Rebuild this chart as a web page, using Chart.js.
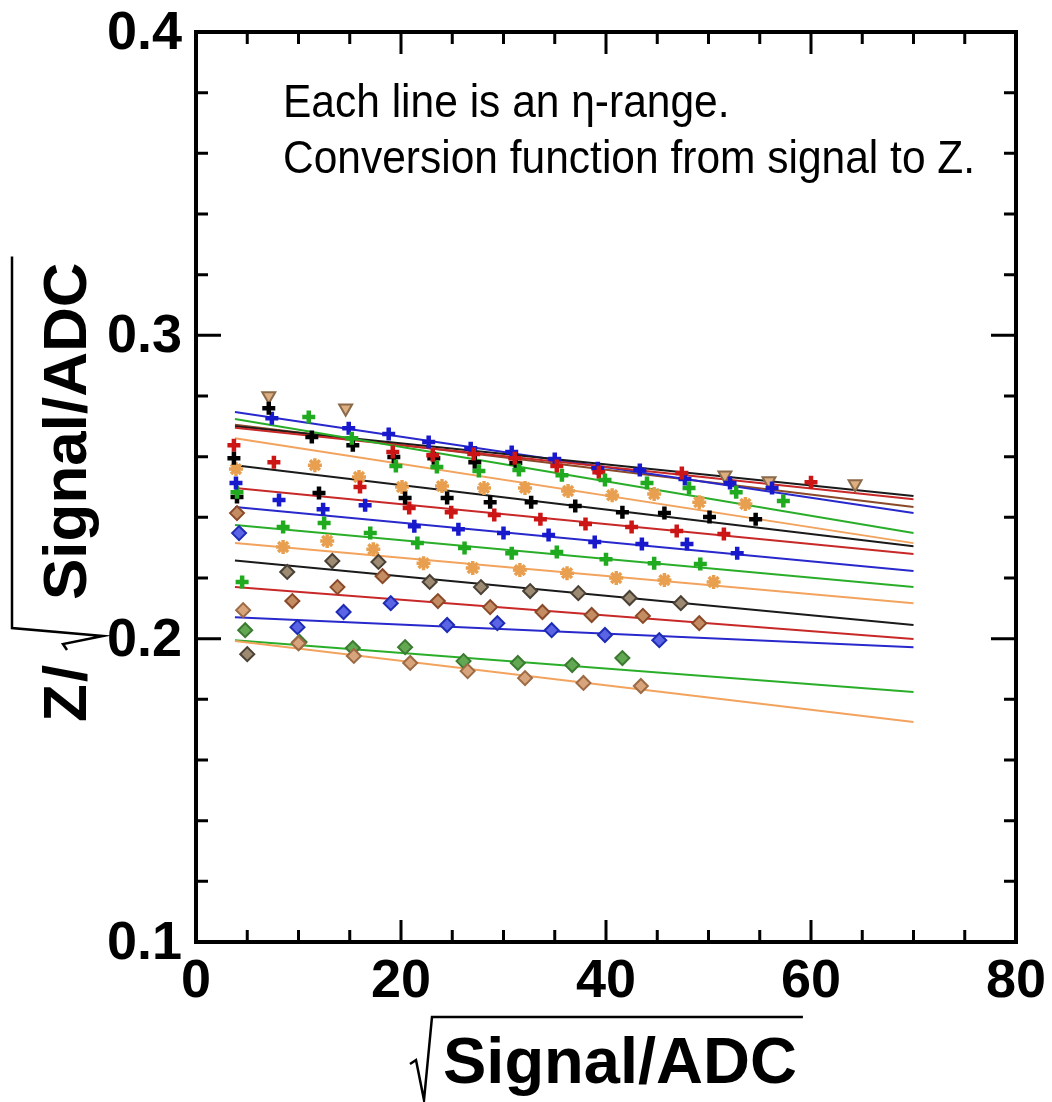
<!DOCTYPE html>
<html>
<head>
<meta charset="utf-8">
<script src="https://cdn.jsdelivr.net/npm/chart.js@4.4.1/dist/chart.umd.min.js"></script>
<style>
  html, body { margin: 0; padding: 0; background: #fff; }
  #wrap { width: 1052px; height: 1102px; position: relative; }
</style>
</head>
<body>
<div id="wrap"><canvas id="chart"></canvas></div>
<script>
// axis ticks
const xTicks = [0, 20, 40, 60, 80];
const yTicks = [0.1, 0.2, 0.3, 0.4];

// every fit line runs over the same sqrt(signal) range
const fitRange = [3.8, 70];

// eta ranges, bottom line to top line: points + fit values at fitRange ends
const eta1X = [4.6, 10.0, 15.4, 20.9, 26.5, 32.1, 37.8, 43.4];
const eta1Y = [0.2094, 0.1985, 0.1943, 0.1920, 0.1893, 0.1870, 0.1854, 0.1844];
const eta1Fit = [0.1992, 0.1725];

const eta2X = [4.8, 10.1, 15.3, 20.4, 26.1, 31.4, 36.7, 41.6];
const eta2Y = [0.2028, 0.1989, 0.1969, 0.1972, 0.1926, 0.1920, 0.1913, 0.1936];
const eta2Fit = [0.1995, 0.1824];

const eta3X = [4.2, 9.9, 14.4, 19.0, 24.5, 29.4, 34.7, 39.9, 45.2];
const eta3Y = [0.2348, 0.2038, 0.2088, 0.2117, 0.2045, 0.2051, 0.2028, 0.2012, 0.1995];
const eta3Fit = [0.2071, 0.1972];

const eta4X = [4.0, 9.4, 13.8, 18.2, 23.6, 28.7, 33.8, 38.6, 43.6, 49.1];
const eta4Y = [0.2414, 0.2124, 0.2170, 0.2206, 0.2124, 0.2104, 0.2088, 0.2078, 0.2075, 0.2051];
const eta4Fit = [0.2170, 0.1999];

const eta5X = [5.0, 8.9, 13.3, 17.8, 22.8, 27.8, 32.6, 37.3, 42.3, 47.3];
const eta5Y = [0.1949, 0.2220, 0.2256, 0.2253, 0.2187, 0.2170, 0.2157, 0.2150, 0.2134, 0.2117];
const eta5Fit = [0.2258, 0.2045];

const eta6X = [8.5, 12.8, 17.3, 22.2, 27.0, 31.6, 36.2, 41.0, 45.7, 50.5];
const eta6Y = [0.2302, 0.2322, 0.2295, 0.2249, 0.2233, 0.2226, 0.2216, 0.2200, 0.2193, 0.2187];
const eta6Fit = [0.2315, 0.2117];

const eta7X = [4.5, 8.5, 12.5, 17.0, 21.6, 26.2, 30.8, 35.2, 40.0, 44.7, 49.2];
const eta7Y = [0.2187, 0.2368, 0.2381, 0.2348, 0.2315, 0.2299, 0.2282, 0.2286, 0.2262, 0.2249, 0.2246];
const eta7Fit = [0.2375, 0.2170];

const eta8X = [3.9, 8.1, 12.4, 16.5, 21.3, 25.6, 30.0, 34.4, 38.9, 43.5, 47.9, 52.8];
const eta8Y = [0.2513, 0.2457, 0.2427, 0.2440, 0.2371, 0.2361, 0.2348, 0.2342, 0.2319, 0.2312, 0.2312, 0.2282];
const eta8Fit = [0.2434, 0.2223];

const eta9X = [7.6, 16.0, 20.8, 24.9, 29.1, 33.6, 38.0, 42.5, 46.9, 51.5];
const eta9Y = [0.2582, 0.2500, 0.2431, 0.2417, 0.2408, 0.2394, 0.2378, 0.2368, 0.2355, 0.2345];
const eta9Fit = [0.2497, 0.2279];

const eta10X = [3.7, 12.0, 20.4, 24.5, 28.7, 32.7, 37.0, 41.6, 45.7, 50.1, 54.6];
const eta10Y = [0.2595, 0.2480, 0.2464, 0.2464, 0.2450, 0.2450, 0.2437, 0.2417, 0.2414, 0.2401, 0.2394];
const eta10Fit = [0.2572, 0.2305];

const eta11X = [3.9, 11.6, 15.9, 20.1, 24.0, 28.1, 32.1, 36.3, 40.6, 44.7, 49.1, 53.6];
const eta11Y = [0.2559, 0.2572, 0.2533, 0.2500, 0.2503, 0.2497, 0.2497, 0.2487, 0.2473, 0.2477, 0.2450, 0.2444];
const eta11Fit = [0.2661, 0.2315];

const eta12X = [4.0, 11.0, 15.2, 19.5, 23.5, 27.6, 31.5, 35.7, 39.9, 44.0, 48.1, 52.7, 57.3];
const eta12Y = [0.2483, 0.2731, 0.2661, 0.2569, 0.2566, 0.2553, 0.2556, 0.2539, 0.2523, 0.2513, 0.2497, 0.2483, 0.2454];
const eta12Fit = [0.2724, 0.2348];

const eta13X = [3.7, 19.2, 23.1, 27.1, 31.1, 35.2, 39.3, 47.4, 60.0];
const eta13Y = [0.2638, 0.2615, 0.2605, 0.2609, 0.2595, 0.2569, 0.2549, 0.2546, 0.2516];
const eta13Fit = [0.2695, 0.2460];

const eta14X = [4.0, 7.1, 11.3, 15.3, 19.3, 23.2, 27.2, 31.2];
const eta14Y = [0.2467, 0.2760, 0.2665, 0.2638, 0.2599, 0.2595, 0.2582, 0.2579];
const eta14Fit = [0.2700, 0.2470];

const eta15X = [7.4, 14.9, 18.8, 22.7, 26.8, 30.8, 35.0, 39.2, 43.3, 47.7, 52.1, 56.2];
const eta15Y = [0.2727, 0.2694, 0.2675, 0.2648, 0.2628, 0.2615, 0.2592, 0.2562, 0.2556, 0.2526, 0.2513, 0.2497];
const eta15Fit = [0.2747, 0.2414];

const eta16X = [7.1, 14.6, 51.6, 55.9, 64.3];
const eta16Y = [0.2800, 0.2760, 0.2539, 0.2520, 0.2510];
const eta16Fit = [0.2705, 0.2434];

// line colours
const ORANGE = '#f2a35e', GREEN = '#2aae2a', BLUE = '#2828cc', RED = '#c82828', BLACK = '#1a1a1a';

// marker looks
const diamond = (fill, edge) => ({ pointStyle: 'rectRot', pointRadius: 7, backgroundColor: fill, borderColor: edge, borderWidth: 2 });
const plus = c => ({ pointStyle: 'cross', pointRadius: 6.5, backgroundColor: c, borderColor: c, borderWidth: 4.5 });
const star = c => ({ pointStyle: 'star', pointRadius: 7, backgroundColor: c, borderColor: c, borderWidth: 3.5 });
const tri = (fill, edge) => ({ pointStyle: 'triangle', rotation: 180, pointRadius: 7.5, backgroundColor: fill, borderColor: edge, borderWidth: 2 });

const series = [
  { x: eta1X,  y: eta1Y,  fit: eta1Fit,  line: ORANGE, mark: diamond('#d8a47c', '#9c6a44') },
  { x: eta2X,  y: eta2Y,  fit: eta2Fit,  line: GREEN,  mark: diamond('#62a852', '#3b7a30') },
  { x: eta3X,  y: eta3Y,  fit: eta3Fit,  line: BLUE,   mark: diamond('#5a64e4', '#1e2cb4') },
  { x: eta4X,  y: eta4Y,  fit: eta4Fit,  line: RED,    mark: diamond('#c48c62', '#8a4a2a') },
  { x: eta5X,  y: eta5Y,  fit: eta5Fit,  line: BLACK,  mark: diamond('#9c8a72', '#4a4035') },
  { x: eta6X,  y: eta6Y,  fit: eta6Fit,  line: ORANGE, mark: star('#e8a050') },
  { x: eta7X,  y: eta7Y,  fit: eta7Fit,  line: GREEN,  mark: plus('#1faa1f') },
  { x: eta8X,  y: eta8Y,  fit: eta8Fit,  line: BLUE,   mark: plus('#1818cc') },
  { x: eta9X,  y: eta9Y,  fit: eta9Fit,  line: RED,    mark: plus('#cc1515') },
  { x: eta10X, y: eta10Y, fit: eta10Fit, line: BLACK,  mark: plus('#000000') },
  { x: eta11X, y: eta11Y, fit: eta11Fit, line: ORANGE, mark: star('#e8a050') },
  { x: eta12X, y: eta12Y, fit: eta12Fit, line: GREEN,  mark: plus('#1faa1f') },
  { x: eta13X, y: eta13Y, fit: eta13Fit, line: RED,    mark: plus('#cc1515') },
  { x: eta14X, y: eta14Y, fit: eta14Fit, line: BLACK,  mark: plus('#000000') },
  { x: eta15X, y: eta15Y, fit: eta15Fit, line: BLUE,   mark: plus('#1818cc') },
  { x: eta16X, y: eta16Y, fit: eta16Fit, line: '#8a4a2a', mark: tri('#dcae80', '#8a6a4a') }
];

const datasets = [];
series.forEach(s => {
  datasets.push({
    data: fitRange.map((x, i) => ({ x: x, y: s.fit[i] })),
    showLine: true, pointRadius: 0, borderColor: s.line, borderWidth: 2, order: 2
  });
  datasets.push(Object.assign({
    data: s.x.map((x, i) => ({ x: x, y: s.y[i] })),
    showLine: false, order: 1
  }, s.mark));
});

const FONT = 'Liberation Sans, Arial, Helvetica, sans-serif';

// radical sign with overline, then the text under it; baseline at y=0
function rootBody(ctx, x, body, gap, top) {
  const w = ctx.measureText(body).width;
  ctx.lineWidth = 2.5;
  ctx.beginPath();
  ctx.moveTo(x, -19);
  ctx.lineTo(x + 6, -23);
  ctx.lineTo(x + 14, 17);
  ctx.lineTo(x + 22, top);
  ctx.lineTo(x + gap + w + 6, top);
  ctx.stroke();
  ctx.fillText(body, x + gap, 0);
}

const decor = {
  id: 'decor',
  afterDraw(chart) {
    const { ctx, chartArea: a, scales } = chart;
    const xs = scales.x, ys = scales.y;
    ctx.save();
    ctx.strokeStyle = '#000';
    ctx.fillStyle = '#000';
    ctx.lineCap = 'butt';

    // inward ticks on all four sides
    ctx.lineWidth = 3;
    ctx.beginPath();
    for (let i = 1; i < 16; i++) {
      const px = xs.getPixelForValue(i * 5);
      const len = i % 4 === 0 ? 22 : 12;
      ctx.moveTo(px, a.bottom); ctx.lineTo(px, a.bottom - len);
      ctx.moveTo(px, a.top); ctx.lineTo(px, a.top + len);
    }
    for (let i = 1; i < 15; i++) {
      const py = ys.getPixelForValue(0.1 + i * 0.02);
      const len = i % 5 === 0 ? 25 : 12;
      ctx.moveTo(a.left, py); ctx.lineTo(a.left + len, py);
      ctx.moveTo(a.right, py); ctx.lineTo(a.right - len, py);
    }
    ctx.stroke();

    // frame
    ctx.lineWidth = 4;
    ctx.strokeRect(a.left, a.top, a.right - a.left, a.bottom - a.top);

    // tick labels
    ctx.font = 'bold 54px ' + FONT;
    ctx.textBaseline = 'middle';
    ctx.textAlign = 'center';
    xTicks.forEach(v => ctx.fillText(String(v), xs.getPixelForValue(v), a.bottom + 40));
    ctx.textAlign = 'right';
    yTicks.forEach(v => ctx.fillText(v.toFixed(1), a.left - 14, ys.getPixelForValue(v) + 2));

    // axis titles
    ctx.textBaseline = 'alphabetic';
    ctx.textAlign = 'left';
    ctx.save();
    ctx.translate(410, 1083);
    ctx.font = 'bold 65px ' + FONT;
    rootBody(ctx, 0, 'Signal/ADC', 33, -66);
    ctx.restore();

    ctx.save();
    ctx.translate(86, 722);
    ctx.rotate(-Math.PI / 2);
    ctx.font = 'bold 62px ' + FONT;
    ctx.fillText('Z', 0, 0);
    ctx.fillText('/', 40, 0);
    rootBody(ctx, 72, 'Signal/ADC', 50, -74);
    ctx.restore();

    // note
    ctx.save();
    ctx.translate(283, 0);
    ctx.scale(1, 1.1);
    ctx.font = '42.5px ' + FONT;
    ctx.fillText('Each line is an \u03b7-range.', 0, 106);
    ctx.fillText('Conversion function from signal to Z.', 0, 157);
    ctx.restore();
    ctx.restore();
  }
};

new Chart(document.getElementById('chart'), {
  type: 'scatter',
  data: { datasets: datasets },
  options: {
    responsive: true,
    maintainAspectRatio: false,
    animation: false,
    layout: { padding: { top: 32, right: 36, left: 0, bottom: 0 } },
    plugins: { legend: { display: false }, tooltip: { enabled: false } },
    scales: {
      x: {
        type: 'linear', min: 0, max: 80,
        afterBuildTicks: s => { s.ticks = xTicks.map(v => ({ value: v })); },
        afterFit: s => { s.height = 160; },
        grid: { display: false, drawTicks: false },
        border: { display: false },
        ticks: { display: false }
      },
      y: {
        type: 'linear', min: 0.1, max: 0.4,
        afterBuildTicks: s => { s.ticks = yTicks.map(v => ({ value: v })); },
        afterFit: s => { s.width = 196; },
        grid: { display: false, drawTicks: false },
        border: { display: false },
        ticks: { display: false }
      }
    }
  },
  plugins: [decor]
});
</script>
</body>
</html>
